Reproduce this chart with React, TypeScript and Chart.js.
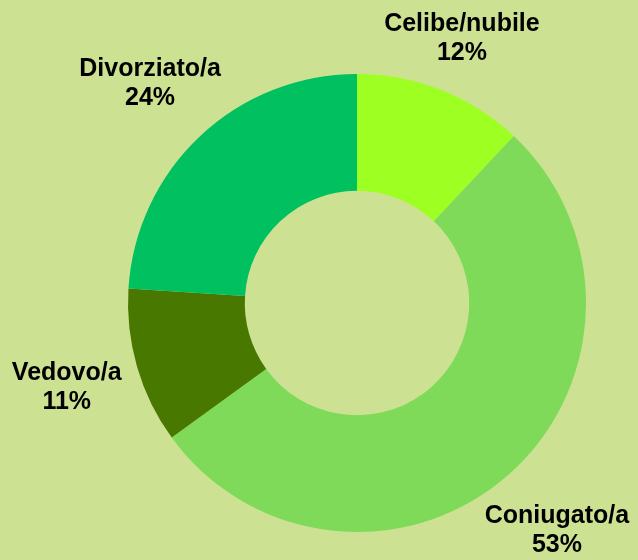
import React, { useEffect, useRef } from "react";
import { Chart, registerables } from "chart.js";

Chart.register(...registerables);

const categories = ["Celibe/nubile", "Coniugato/a", "Vedovo/a", "Divorziato/a"];
const values = [12, 53, 11, 24];
const colors = ["#9EFF22", "#7FDA59", "#487800", "#00C060"];
const BG = "#CDE193";

const labelPlugin = {
  id: "outerLabels",
  afterDraw(chart: any) {
    const ctx = chart.ctx;
    const meta = chart.getDatasetMeta(0);
    const total = values.reduce((a, b) => a + b, 0);
    ctx.save();
    ctx.font = "bold 25px 'Liberation Sans', Arial, sans-serif";
    ctx.fillStyle = "#000000";
    ctx.textAlign = "center";
    ctx.textBaseline = "middle";
    meta.data.forEach((arc: any, i: number) => {
      const p = arc.getProps(["x", "y", "startAngle", "endAngle", "outerRadius"], true);
      const mid = (p.startAngle + p.endAngle) / 2;
      const r = p.outerRadius * 1.32;
      let x = p.x + Math.cos(mid) * r;
      let y = p.y + Math.sin(mid) * r;
      let clamped = false;
      if (y < 40) { y = 38; clamped = true; }
      if (y > 532) { y = 534; clamped = true; }
      if (clamped) x = p.x + ((y - p.y) * Math.cos(mid)) / Math.sin(mid);
      const pct = Math.round((values[i] / total) * 100) + "%";
      ctx.fillText(categories[i], x, y - 14);
      ctx.fillText(pct, x, y + 15);
    });
    ctx.restore();
  },
};

export default function App() {
  const ref = useRef<HTMLCanvasElement | null>(null);
  useEffect(() => {
    document.body.style.margin = "0";
    document.body.style.background = BG;
    const chart = new Chart(ref.current as HTMLCanvasElement, {
      type: "doughnut",
      data: {
        labels: categories,
        datasets: [
          {
            data: values,
            backgroundColor: colors,
            borderWidth: 0,
          },
        ],
      },
      options: {
        animation: false,
        responsive: false,
        cutout: "49%",
        layout: { padding: { left: 128, right: 52, top: 74, bottom: 28 } },
        plugins: { legend: { display: false }, tooltip: { enabled: false } },
      },
      plugins: [labelPlugin],
    });
    return () => chart.destroy();
  }, []);
  return (
    <div style={{ width: 638, height: 560, background: BG }}>
      <canvas ref={ref} width={638} height={560} style={{ display: "block" }} />
    </div>
  );
}
